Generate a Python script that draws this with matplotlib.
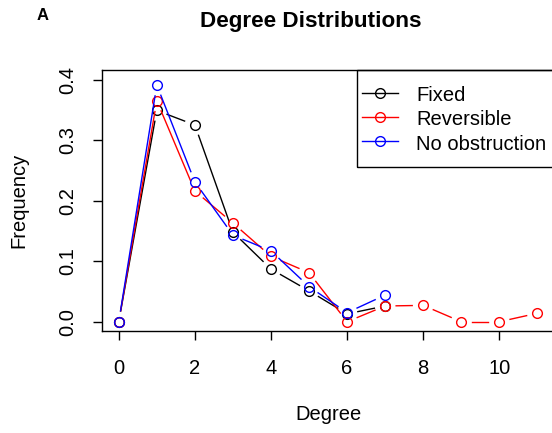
import matplotlib
matplotlib.use("Agg")
import matplotlib.pyplot as plt
from matplotlib.lines import Line2D
from matplotlib.patches import Rectangle
from matplotlib.transforms import IdentityTransform
import numpy as np

plt.rcParams['font.family'] = ['Liberation Sans', 'DejaVu Sans']

# degree distributions
fixed_deg = [0, 1, 2, 3, 4, 5, 6, 7]
fixed_freq = [0.0, 0.349, 0.325, 0.148, 0.087, 0.051, 0.013, 0.026]

rev_deg = [0, 1, 2, 3, 4, 5, 6, 7, 8, 9, 10, 11]
rev_freq = [0.0, 0.365, 0.216, 0.163, 0.108, 0.081, 0.0, 0.026, 0.027, 0.0, 0.0, 0.014]

noob_deg = [0, 1, 2, 3, 4, 5, 6, 7]
noob_freq = [0.0, 0.391, 0.231, 0.143, 0.117, 0.058, 0.015, 0.044]

series = [
    (fixed_deg, fixed_freq, 'black', 'Fixed'),
    (rev_deg, rev_freq, 'red', 'Reversible'),
    (noob_deg, noob_freq, 'blue', 'No obstruction'),
]

FS = 14.5
fig = plt.figure(figsize=(5.52, 4.33), dpi=100)
ax = fig.add_axes([0.1848, 0.2346, 0.819, 0.604])
ax.set_xlim(-0.44, 11.44)
ax.set_ylim(-0.016, 0.416)

# R type="b": line segments leave a gap around each point
gap = 11.0
for x, y, c, lab in series:
    pts = ax.transData.transform(np.column_stack([x, y]))
    for p0, p1 in zip(pts[:-1], pts[1:]):
        d = p1 - p0
        L = np.hypot(*d)
        if L <= 2 * gap:
            continue
        u = d / L
        a = p0 + u * gap
        b = p1 - u * gap
        ax.plot([a[0], b[0]], [a[1], b[1]], color=c, lw=1, transform=IdentityTransform())
    ax.plot(x, y, ls='none', marker='o', ms=7, mfc='none', mec=c, mew=1)

ax.set_xticks([0, 2, 4, 6, 8, 10])
ax.set_yticks([0.0, 0.1, 0.2, 0.3, 0.4])
ax.set_yticklabels(['0.0', '0.1', '0.2', '0.3', '0.4'], rotation=90, va='center')
ax.tick_params(direction='out', length=6.5, width=1, labelsize=FS)
ax.tick_params(axis='x', pad=13)
ax.tick_params(axis='y', pad=11)
for s in ax.spines.values():
    s.set_linewidth(1)

ax.set_xlabel('Degree', fontsize=FS, va='center')
ax.set_ylabel('Frequency', fontsize=FS, va='center')
ax.xaxis.set_label_coords(0.5, -0.318)
ax.yaxis.set_label_coords(-0.184, 0.5)

fig.text(0.5634, 0.951, 'Degree Distributions', fontsize=16.2, fontweight='bold',
         ha='center', va='center')
fig.text(0.078, 0.965, 'A', fontsize=12, fontweight='bold', ha='center', va='center')

# legend box drawn R-style: frame runs off the right edge
ax.add_patch(Rectangle((0.564, 0.629), 0.45, 0.371, transform=ax.transAxes,
                       fill=False, ec='black', lw=1, clip_on=False, zorder=5))
handles = [Line2D([], [], color=c, lw=1, marker='o', ms=7, mfc='none', mec=c, mew=1)
           for _, _, c, _ in series]
labels = [lab for _, _, _, lab in series]
ax.legend(handles, labels, loc='center', bbox_to_anchor=(0.779, 0.8126),
          fontsize=FS, frameon=False, borderpad=0, borderaxespad=0,
          handlelength=1.8, handleheight=1.2, handletextpad=0.9, labelspacing=0.16)

fig.savefig('out.png', dpi=100)
plt.close(fig)
